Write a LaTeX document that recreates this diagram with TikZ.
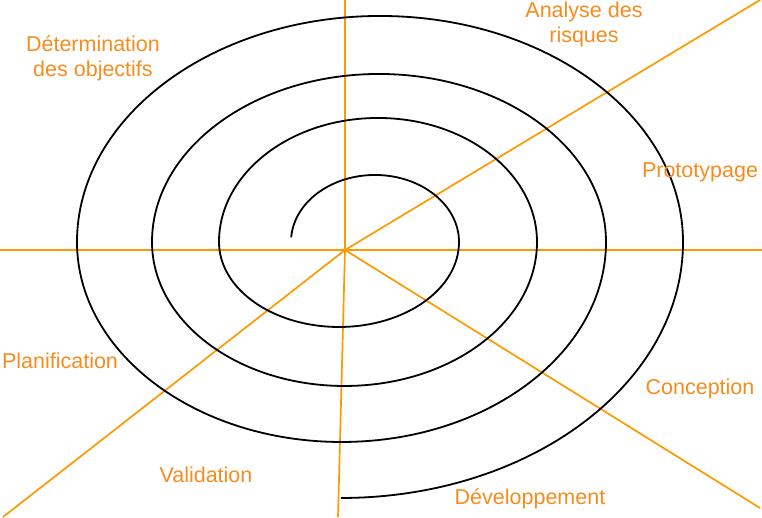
\documentclass[tikz,border=0pt]{standalone}
\usepackage{fontspec}
\setmainfont{Liberation Sans}
\definecolor{axisorange}{RGB}{255,153,0}
\definecolor{labelorange}{RGB}{247,140,30}
\begin{document}
\begin{tikzpicture}[x=1pt,y=1pt,
  axis/.style={draw=axisorange,line width=1.7pt},
  spiral/.style={draw=black,line width=1.8pt},
  phase/.style={text=labelorange,inner sep=0pt,anchor=base,align=center,
    font=\fontsize{21.5}{25}\selectfont}]
\useasboundingbox (0,0) rectangle (762,517);

% axes radiating from the centre
\coordinate (O) at (345,267);
\coordinate (W) at (0,267);
\coordinate (E) at (762,267);
\coordinate (N) at (345,517);
\coordinate (S) at (338,0);
\coordinate (NE) at (760,517);
\coordinate (SW) at (3,0);
\coordinate (SE) at (760,9);
\draw[axis] (W) -- (E);
\draw[axis] (N) -- (O) -- (S);
\draw[axis] (O) -- (NE);
\draw[axis] (O) -- (SW);
\draw[axis] (O) -- (SE);

% the spiral, built from alternating half-ellipses
\coordinate (start) at (291.2,279.7);
\draw[spiral] (start)
  arc[start angle=176,end angle=0,x radius=84,y radius=67]
  arc[start angle=0,end angle=-180,x radius=120,y radius=85]
  arc[start angle=180,end angle=0,x radius=159,y radius=124]
  arc[start angle=0,end angle=-180,x radius=192.5,y radius=144]
  arc[start angle=180,end angle=0,x radius=227,y radius=168]
  arc[start angle=0,end angle=-180,x radius=264.5,y radius=200]
  arc[start angle=180,end angle=0,x radius=303,y radius=226]
  arc[start angle=0,end angle=-90,x radius=342,y radius=256];

% phase labels (base anchor sits on the last line)
\node[phase] (obj) at (93,440) {Détermination\\des objectifs};
\node[phase] (risk) at (584,474) {Analyse des\\risques};
\node[phase] (proto) at (700,339) {Prototypage};
\node[phase] (conc) at (700,123) {Conception};
\node[phase] (dev) at (530,13) {Développement};
\node[phase] (valid) at (206,35) {Validation};
\node[phase] (plan) at (60,149) {Planification};
\end{tikzpicture}
\end{document}
